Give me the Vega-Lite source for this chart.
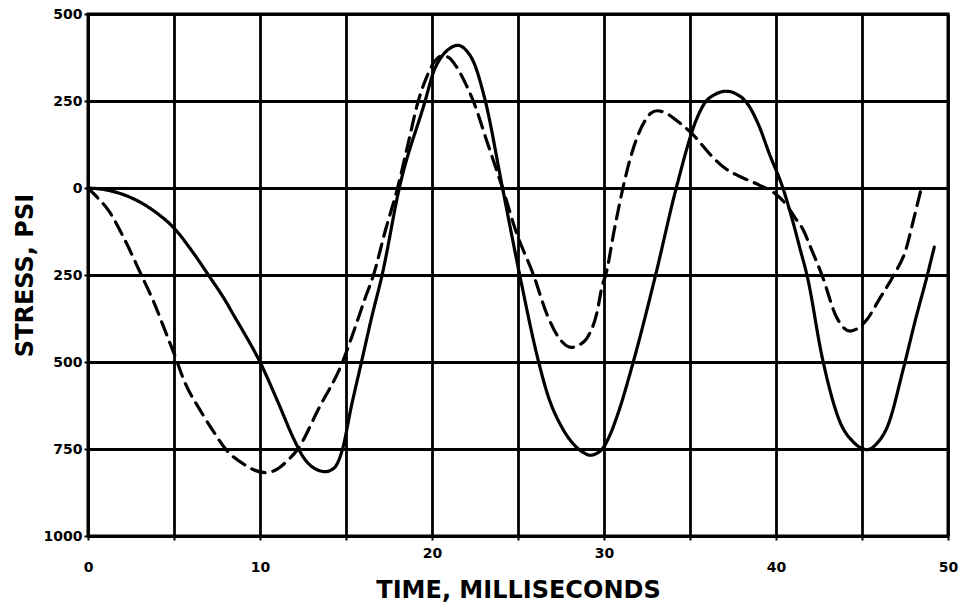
{
  "$schema": "https://vega.github.io/schema/vega-lite/v6.json",
  "width": 860,
  "height": 522,
  "autosize": "none",
  "padding": {"left": 88, "top": 14, "right": 20, "bottom": 70},
  "background": "white",
  "config": {
    "view": {"stroke": "black", "strokeWidth": 3},
    "axis": {
      "grid": true,
      "gridColor": "black",
      "gridWidth": 2.8,
      "gridOpacity": 1,
      "domain": false,
      "tickColor": "black",
      "tickSize": 4,
      "tickWidth": 2,
      "labelFont": "DejaVu Sans",
      "labelFontWeight": "bold",
      "labelFontSize": 14,
      "labelColor": "black",
      "labelFlush": false,
      "titleFont": "DejaVu Sans",
      "titleFontWeight": "bold",
      "titleFontSize": 24,
      "titleColor": "black"
    }
  },
  "data": {
    "values": [
      {"series": "solid", "t": 0, "stress": 0},
      {"series": "solid", "t": 1, "stress": -5},
      {"series": "solid", "t": 2, "stress": -18},
      {"series": "solid", "t": 3, "stress": -40},
      {"series": "solid", "t": 4, "stress": -72},
      {"series": "solid", "t": 5, "stress": -115},
      {"series": "solid", "t": 6, "stress": -178},
      {"series": "solid", "t": 7, "stress": -250},
      {"series": "solid", "t": 8, "stress": -325},
      {"series": "solid", "t": 8.5, "stress": -368},
      {"series": "solid", "t": 9, "stress": -410},
      {"series": "solid", "t": 10, "stress": -500},
      {"series": "solid", "t": 11, "stress": -610},
      {"series": "solid", "t": 12, "stress": -725},
      {"series": "solid", "t": 12.5, "stress": -772},
      {"series": "solid", "t": 13, "stress": -800},
      {"series": "solid", "t": 13.8, "stress": -815},
      {"series": "solid", "t": 14.3, "stress": -805},
      {"series": "solid", "t": 14.8, "stress": -750},
      {"series": "solid", "t": 15.3, "stress": -630},
      {"series": "solid", "t": 15.9, "stress": -500},
      {"series": "solid", "t": 16.5, "stress": -370},
      {"series": "solid", "t": 17.1, "stress": -250},
      {"series": "solid", "t": 18.1, "stress": 0},
      {"series": "solid", "t": 19.6, "stress": 250},
      {"series": "solid", "t": 20.1, "stress": 335},
      {"series": "solid", "t": 20.6, "stress": 380},
      {"series": "solid", "t": 21.0, "stress": 400},
      {"series": "solid", "t": 21.5, "stress": 410},
      {"series": "solid", "t": 22.0, "stress": 395},
      {"series": "solid", "t": 22.4, "stress": 364},
      {"series": "solid", "t": 23.1, "stress": 250},
      {"series": "solid", "t": 24.1, "stress": 0},
      {"series": "solid", "t": 25.1, "stress": -250},
      {"series": "solid", "t": 26.2, "stress": -500},
      {"series": "solid", "t": 26.7, "stress": -590},
      {"series": "solid", "t": 27.6, "stress": -692},
      {"series": "solid", "t": 28.3, "stress": -740},
      {"series": "solid", "t": 28.8, "stress": -760},
      {"series": "solid", "t": 29.2, "stress": -768},
      {"series": "solid", "t": 29.6, "stress": -762},
      {"series": "solid", "t": 29.9, "stress": -750},
      {"series": "solid", "t": 30.3, "stress": -715},
      {"series": "solid", "t": 30.8, "stress": -650},
      {"series": "solid", "t": 31.7, "stress": -500},
      {"series": "solid", "t": 33.0, "stress": -250},
      {"series": "solid", "t": 34.2, "stress": 0},
      {"series": "solid", "t": 35.4, "stress": 200},
      {"series": "solid", "t": 35.8, "stress": 240},
      {"series": "solid", "t": 36.5, "stress": 270},
      {"series": "solid", "t": 37.1, "stress": 278},
      {"series": "solid", "t": 37.7, "stress": 270},
      {"series": "solid", "t": 38.3, "stress": 245},
      {"series": "solid", "t": 39.0, "stress": 180},
      {"series": "solid", "t": 39.6, "stress": 100},
      {"series": "solid", "t": 40.4, "stress": 0},
      {"series": "solid", "t": 41.0, "stress": -100},
      {"series": "solid", "t": 41.4, "stress": -175},
      {"series": "solid", "t": 41.8, "stress": -250},
      {"series": "solid", "t": 42.7, "stress": -490},
      {"series": "solid", "t": 43.7, "stress": -670},
      {"series": "solid", "t": 44.5, "stress": -730},
      {"series": "solid", "t": 45.3, "stress": -752},
      {"series": "solid", "t": 45.9, "stress": -732},
      {"series": "solid", "t": 46.5, "stress": -683},
      {"series": "solid", "t": 47.4, "stress": -520},
      {"series": "solid", "t": 48.1, "stress": -380},
      {"series": "solid", "t": 48.8, "stress": -250},
      {"series": "solid", "t": 49.2, "stress": -170},
      {"series": "dashed", "t": 0, "stress": 0},
      {"series": "dashed", "t": 0.5, "stress": -25},
      {"series": "dashed", "t": 1.2, "stress": -65},
      {"series": "dashed", "t": 2.15, "stress": -150},
      {"series": "dashed", "t": 3.1, "stress": -250},
      {"series": "dashed", "t": 3.8, "stress": -325},
      {"series": "dashed", "t": 4.6, "stress": -425},
      {"series": "dashed", "t": 5.0, "stress": -475},
      {"series": "dashed", "t": 5.6, "stress": -555},
      {"series": "dashed", "t": 6.6, "stress": -645},
      {"series": "dashed", "t": 7.3, "stress": -700},
      {"series": "dashed", "t": 8.0, "stress": -750},
      {"series": "dashed", "t": 9.1, "stress": -795},
      {"series": "dashed", "t": 10.3, "stress": -818},
      {"series": "dashed", "t": 11.0, "stress": -808},
      {"series": "dashed", "t": 11.5, "stress": -788},
      {"series": "dashed", "t": 12.2, "stress": -750},
      {"series": "dashed", "t": 13.4, "stress": -635},
      {"series": "dashed", "t": 14.8, "stress": -500},
      {"series": "dashed", "t": 15.5, "stress": -405},
      {"series": "dashed", "t": 16.1, "stress": -318},
      {"series": "dashed", "t": 16.6, "stress": -250},
      {"series": "dashed", "t": 17.3, "stress": -120},
      {"series": "dashed", "t": 18.0, "stress": 0},
      {"series": "dashed", "t": 18.6, "stress": 125},
      {"series": "dashed", "t": 19.2, "stress": 250},
      {"series": "dashed", "t": 19.7, "stress": 320},
      {"series": "dashed", "t": 20.1, "stress": 360},
      {"series": "dashed", "t": 20.6, "stress": 380},
      {"series": "dashed", "t": 21.0, "stress": 374},
      {"series": "dashed", "t": 21.4, "stress": 350},
      {"series": "dashed", "t": 22.0, "stress": 295},
      {"series": "dashed", "t": 22.4, "stress": 250},
      {"series": "dashed", "t": 23.2, "stress": 133},
      {"series": "dashed", "t": 24.1, "stress": 0},
      {"series": "dashed", "t": 24.9, "stress": -127},
      {"series": "dashed", "t": 25.9, "stress": -250},
      {"series": "dashed", "t": 26.7, "stress": -365},
      {"series": "dashed", "t": 27.4, "stress": -432},
      {"series": "dashed", "t": 28.1, "stress": -458},
      {"series": "dashed", "t": 28.6, "stress": -450},
      {"series": "dashed", "t": 29.0, "stress": -432},
      {"series": "dashed", "t": 29.6, "stress": -356},
      {"series": "dashed", "t": 29.9, "stress": -280},
      {"series": "dashed", "t": 30.1, "stress": -250},
      {"series": "dashed", "t": 30.6, "stress": -120},
      {"series": "dashed", "t": 31.1, "stress": 0},
      {"series": "dashed", "t": 31.5, "stress": 80},
      {"series": "dashed", "t": 31.9, "stress": 142},
      {"series": "dashed", "t": 32.4, "stress": 195},
      {"series": "dashed", "t": 32.7, "stress": 214},
      {"series": "dashed", "t": 33.1, "stress": 222},
      {"series": "dashed", "t": 33.6, "stress": 215},
      {"series": "dashed", "t": 34.3, "stress": 191},
      {"series": "dashed", "t": 35.2, "stress": 152},
      {"series": "dashed", "t": 36.2, "stress": 95},
      {"series": "dashed", "t": 37.0, "stress": 58},
      {"series": "dashed", "t": 37.9, "stress": 33},
      {"series": "dashed", "t": 39.0, "stress": 9},
      {"series": "dashed", "t": 40.0, "stress": -18},
      {"series": "dashed", "t": 40.6, "stress": -48},
      {"series": "dashed", "t": 41.1, "stress": -85},
      {"series": "dashed", "t": 41.6, "stress": -122},
      {"series": "dashed", "t": 42.0, "stress": -169},
      {"series": "dashed", "t": 42.7, "stress": -254},
      {"series": "dashed", "t": 43.5, "stress": -369},
      {"series": "dashed", "t": 44.3, "stress": -411},
      {"series": "dashed", "t": 45.3, "stress": -377},
      {"series": "dashed", "t": 46.0, "stress": -320},
      {"series": "dashed", "t": 46.8, "stress": -254},
      {"series": "dashed", "t": 47.6, "stress": -169},
      {"series": "dashed", "t": 48.0, "stress": -90},
      {"series": "dashed", "t": 48.4, "stress": -10}
    ]
  },
  "mark": {"type": "line", "interpolate": "monotone", "strokeWidth": 3.2, "color": "black", "strokeCap": "round"},
  "encoding": {
    "x": {
      "field": "t",
      "type": "quantitative",
      "scale": {"domain": [0, 50], "nice": false, "zero": false},
      "axis": {
        "values": [0, 5, 10, 15, 20, 25, 30, 35, 40, 45, 50],
        "labelExpr": "datum.value % 10 == 0 ? datum.label : ''",
        "labelPadding": 20,
        "labelBaseline": {"condition": {"test": "datum.value == 20 || datum.value == 30", "value": "bottom"}, "value": "top"},
        "title": "TIME, MILLISECONDS",
        "titleY": 61,
        "titleBaseline": "alphabetic"
      }
    },
    "y": {
      "field": "stress",
      "type": "quantitative",
      "scale": {"domain": [-1000, 500], "nice": false, "zero": false},
      "axis": {
        "values": [-1000, -750, -500, -250, 0, 250, 500],
        "labelExpr": "format(abs(datum.value), 'd')",
        "labelPadding": 2,
        "title": "STRESS, PSI",
        "titleAngle": -90,
        "titleX": -56,
        "titleY": 261,
        "titleAlign": "center",
        "titleBaseline": "alphabetic"
      }
    },
    "strokeDash": {
      "field": "series",
      "type": "nominal",
      "scale": {"domain": ["solid", "dashed"], "range": [[1, 0], [14, 8]]},
      "legend": null
    }
  }
}
